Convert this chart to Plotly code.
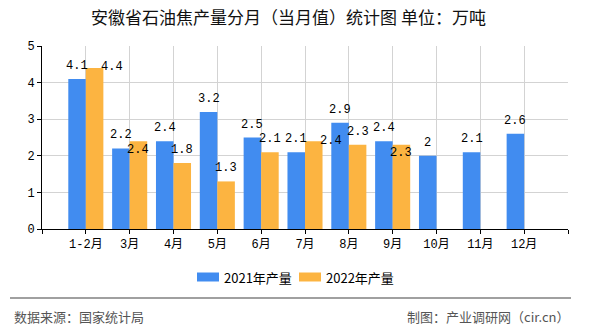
import plotly.graph_objects as go

months = ["1-2月", "3月", "4月", "5月", "6月", "7月", "8月", "9月", "10月", "11月", "12月"]
prod_2021 = [4.1, 2.2, 2.4, 3.2, 2.5, 2.1, 2.9, 2.4, 2.0, 2.1, 2.6]
prod_2022 = [4.4, 2.4, 1.8, 1.3, 2.1, 2.4, 2.3, 2.3, None, None, None]
series_names = ["2021年产量", "2022年产量"]
y_ticks = [0, 1, 2, 3, 4, 5]

BLUE = "#418CF0"
ORANGE = "#FCB441"
W, H = 590, 330
L, R, T, B = 42, 22, 46, 101
PW, PH = W - L - R, H - T - B

def px_x(p):
    return (p - L) / PW

def px_y(p):
    return (H - B - p) / PH

idx = list(range(len(months)))
label_font = dict(family="Liberation Mono, Noto Sans CJK SC", size=12, color="#000000")

fig = go.Figure()
fig.add_bar(x=idx, y=prod_2021, name=series_names[0], marker_color=BLUE, marker_line_width=0,
            showlegend=False)
fig.add_bar(x=idx, y=prod_2022, name=series_names[1], marker_color=ORANGE, marker_line_width=0,
            showlegend=False)

# label adjustments (pixel shifts) for overlapping labels, 2022 series
adjust_2022 = {0: (17, 1), 1: (0, -9), 5: (17, 0), 7: (0, -8)}
bar_half = 0.2
for i, v in enumerate(prod_2021):
    fig.add_annotation(x=i - bar_half, y=v, text=f"{v:g}", showarrow=False,
                       xref="x", yref="y", yanchor="middle", yshift=13, font=label_font)
for i, v in enumerate(prod_2022):
    if v is None:
        continue
    xs, ys = adjust_2022.get(i, (0, 13))
    fig.add_annotation(x=i + bar_half, y=v, text=f"{v:g}", showarrow=False,
                       xref="x", yref="y", yanchor="middle", xshift=xs, yshift=ys, font=label_font)

fig.update_layout(
    width=W, height=H,
    margin=dict(l=L, r=R, t=T, b=B),
    paper_bgcolor="white", plot_bgcolor="white",
    barmode="group", bargap=0.2, bargroupgap=0,
    title=dict(text="安徽省石油焦产量分月（当月值）统计图 单位：万吨",
               x=0.489, xref="container", y=1 - 18 / H, yref="container",
               xanchor="center", yanchor="middle",
               font=dict(family="Noto Sans CJK SC", size=17, color="#111111")),
    font=dict(family="Noto Sans CJK SC", size=12, color="#000000"),
    showlegend=False,
    xaxis=dict(range=[-1, len(months)], tickmode="array",
               tickvals=list(range(-1, len(months) + 1)),
               ticktext=[""] + months + [""],
               showgrid=True, gridcolor="#D3D3D3", gridwidth=1,
               showline=True, linecolor="#000000", linewidth=1,
               ticks="outside", ticklen=4, tickcolor="#000000",
               tickfont=dict(family="Liberation Mono, Noto Sans CJK SC", size=12),
               zeroline=False, fixedrange=True),
    yaxis=dict(range=[0, 5], tickvals=y_ticks,
               showgrid=True, gridcolor="#D3D3D3", gridwidth=1,
               showline=True, linecolor="#000000", linewidth=1,
               ticks="outside", ticklen=4, tickcolor="#000000",
               tickfont=dict(family="Liberation Mono, Noto Sans CJK SC", size=12),
               zeroline=False, fixedrange=True),
)

# legend drawn as swatches + text (wide rectangular swatches as in the reference)
legend_font = dict(family="Noto Sans CJK SC", size=13, color="#000000")
legend_items = [(series_names[0], BLUE, 197), (series_names[1], ORANGE, 299)]
for name, color, sx in legend_items:
    fig.add_shape(type="rect", xref="paper", yref="paper",
                  x0=px_x(sx), x1=px_x(sx + 22), y0=px_y(281.5), y1=px_y(272.5),
                  fillcolor=color, line=dict(width=0))
    fig.add_annotation(text=name, xref="paper", yref="paper",
                       x=px_x(sx + 25), y=px_y(277), xanchor="left", yanchor="middle",
                       showarrow=False, font=legend_font)

# footer separator and source texts
fig.add_shape(type="line", xref="paper", yref="paper",
              x0=px_x(10), x1=px_x(571), y0=px_y(298), y1=px_y(298),
              line=dict(color="#808080", width=1.5))
footer_font = dict(family="Noto Sans CJK SC", size=13, color="#555555")
fig.add_annotation(text="数据来源：国家统计局", xref="paper", yref="paper",
                   x=px_x(12), y=px_y(316), xanchor="left", yanchor="middle",
                   showarrow=False, font=footer_font)
fig.add_annotation(text="制图：产业调研网（cir.cn）", xref="paper", yref="paper",
                   x=px_x(571), y=px_y(316), xanchor="right", yanchor="middle",
                   showarrow=False, font=footer_font)

fig.write_html("out.html", config={"displayModeBar": False})
